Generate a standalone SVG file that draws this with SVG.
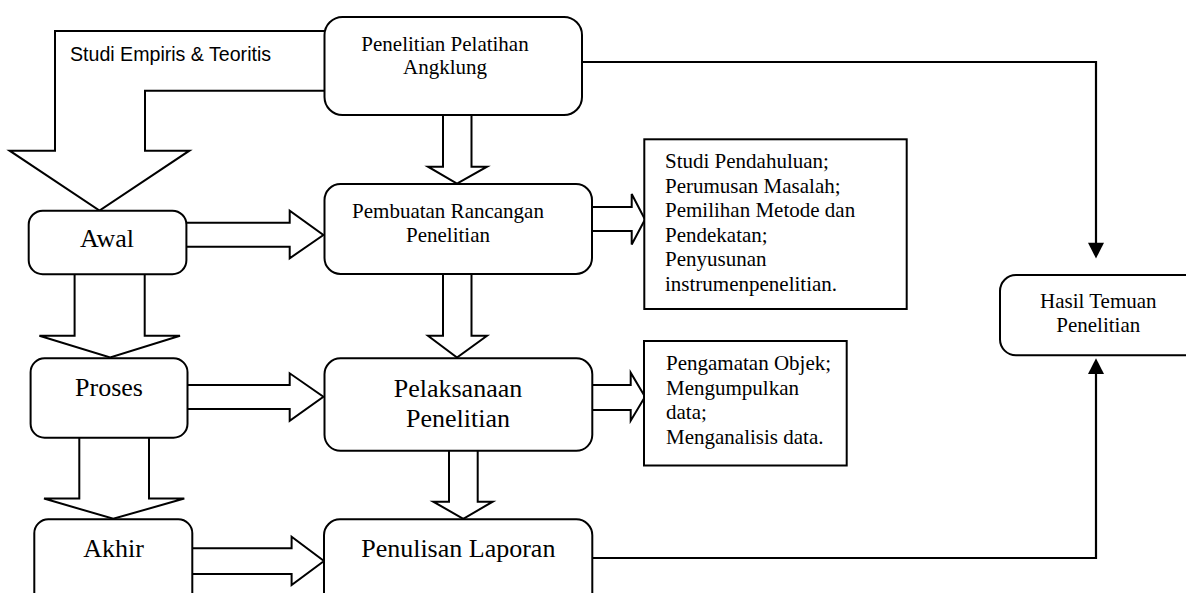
<svg xmlns="http://www.w3.org/2000/svg" width="1186" height="593" viewBox="0 0 1186 593">
<style>
  .box { fill: #fff; stroke: #000; stroke-width: 2; }
  .blk { fill: #fff; stroke: #000; stroke-width: 2; stroke-linejoin: miter; }
  .ln { fill: none; stroke: #000; stroke-width: 2.2; }
  .ah { fill: #000; stroke: none; }
  .t { font-family: "Liberation Serif", "Times New Roman", serif; fill: #000; }
  .s21 { font-size: 21px; }
  .s26 { font-size: 26px; }
  .mid { text-anchor: middle; }
  .sans { font-family: "Liberation Sans", Arial, sans-serif; font-size: 19.6px; fill: #000; }
</style>
<rect width="1186" height="593" fill="#fff"/>

<g id="connectors">
  <!-- big block arrow: Studi Empiris & Teoritis -->
  <polygon class="blk" points="326,31 55,31 55,150.7 9.6,150.7 99.5,210.5 189.4,150.7 145,150.7 145,90.7 326,90.7"/>
  <!-- top box -> Pembuatan -->
  <polygon class="blk" points="443,114 443,166.7 428,166.7 457,183.5 487,166.7 471.5,166.7 471.5,114"/>
  <!-- Awal -> Pembuatan -->
  <polygon class="blk" points="185,222.7 289.7,222.7 289.7,210.7 323.4,235 289.7,258.3 289.7,246.7 185,246.7"/>
  <!-- Pembuatan -> list 1 -->
  <polygon class="blk" points="591,207 631.7,207 631.7,194 645,219.5 631.7,244.5 631.7,231 591,231"/>
  <!-- Awal down -> Proses -->
  <polygon class="blk" points="74.6,273 74.6,335.7 39.4,335.7 110.2,357.5 180,335.7 144.7,335.7 144.7,273"/>
  <!-- Pembuatan down -> Pelaksanaan -->
  <polygon class="blk" points="443,273 443,335.7 428,335.7 457,357.5 487,335.7 471.5,335.7 471.5,273"/>
  <!-- Proses -> Pelaksanaan -->
  <polygon class="blk" points="186,385 289.7,385 289.7,373.3 323.4,396.7 289.7,420.7 289.7,409 186,409"/>
  <!-- Pelaksanaan -> list 2 -->
  <polygon class="blk" points="591,385 630.7,385 630.7,372.7 645,396.7 630.7,420.7 630.7,410 591,410"/>
  <!-- Proses down -> Akhir -->
  <polygon class="blk" points="79.3,437 79.3,498.5 44,498.5 113.3,518.8 184.3,498.5 149,498.5 149,437"/>
  <!-- Pelaksanaan down -> Penulisan -->
  <polygon class="blk" points="449,450 449,501.7 433.3,501.7 463.3,518.8 492.7,501.7 477.7,501.7 477.7,450"/>
  <!-- Akhir -> Penulisan -->
  <polygon class="blk" points="191,548.3 291.6,548.3 291.6,536.7 324,561 291.6,585 291.6,574 191,574"/>
  <!-- top box -> Hasil -->
  <polyline class="ln" points="582,62 1096,62 1096,244"/>
  <polygon class="ah" points="1088,242.7 1104,242.7 1096,258.5"/>
  <!-- Penulisan -> Hasil -->
  <polyline class="ln" points="592,558 1096,558 1096,372"/>
  <polygon class="ah" points="1088,374 1104,374 1096,358.3"/>
</g>

<text class="sans" x="70" y="60.7">Studi Empiris &amp; Teoritis</text>

<g id="penelitian-pelatihan">
  <rect class="box" x="324.5" y="17" width="257.5" height="98" rx="18"/>
  <text class="t s21 mid" x="445" y="50.7">Penelitian Pelatihan</text>
  <text class="t s21 mid" x="445" y="74">Angklung</text>
</g>

<g id="pembuatan">
  <rect class="box" x="324.5" y="184" width="267.5" height="90" rx="16"/>
  <text class="t s21 mid" x="448" y="218.3">Pembuatan Rancangan</text>
  <text class="t s21 mid" x="448" y="241.7">Penelitian</text>
</g>

<g id="awal">
  <rect class="box" x="28.7" y="210.7" width="157.7" height="63.5" rx="14"/>
  <text class="t s26 mid" x="107" y="247.3">Awal</text>
</g>

<g id="list1">
  <rect class="box" x="644.3" y="139.3" width="262.4" height="169.7"/>
  <text class="t s21" x="665" y="168">Studi Pendahuluan;</text>
  <text class="t s21" x="665" y="192.5">Perumusan Masalah;</text>
  <text class="t s21" x="665" y="217">Pemilihan Metode dan</text>
  <text class="t s21" x="665" y="241.5">Pendekatan;</text>
  <text class="t s21" x="665" y="266">Penyusunan</text>
  <text class="t s21" x="665" y="290.5">instrumenpenelitian.</text>
</g>

<g id="proses">
  <rect class="box" x="30.6" y="358.3" width="156.9" height="79.4" rx="14"/>
  <text class="t s26 mid" x="109" y="396">Proses</text>
</g>

<g id="pelaksanaan">
  <rect class="box" x="324.5" y="358.3" width="267.8" height="92.5" rx="16"/>
  <text class="t s26 mid" x="458" y="396.7">Pelaksanaan</text>
  <text class="t s26 mid" x="458" y="426.7">Penelitian</text>
</g>

<g id="list2">
  <rect class="box" x="644" y="341" width="202.7" height="124.5"/>
  <text class="t s21" x="666" y="370">Pengamatan Objek;</text>
  <text class="t s21" x="666" y="394.5">Mengumpulkan</text>
  <text class="t s21" x="666" y="419">data;</text>
  <text class="t s21" x="666" y="443.5">Menganalisis data.</text>
</g>

<g id="akhir">
  <rect class="box" x="34.3" y="519.3" width="158" height="90" rx="14"/>
  <text class="t s26 mid" x="113.5" y="556.7">Akhir</text>
</g>

<g id="penulisan">
  <rect class="box" x="324" y="519.3" width="268.3" height="90" rx="16"/>
  <text class="t s26 mid" x="458.3" y="556.7">Penulisan Laporan</text>
</g>

<g id="hasil">
  <rect class="box" x="1000" y="275" width="210" height="80.3" rx="16"/>
  <text class="t s21 mid" x="1098.3" y="308.3">Hasil Temuan</text>
  <text class="t s21 mid" x="1098.3" y="331.7">Penelitian</text>
</g>
</svg>
